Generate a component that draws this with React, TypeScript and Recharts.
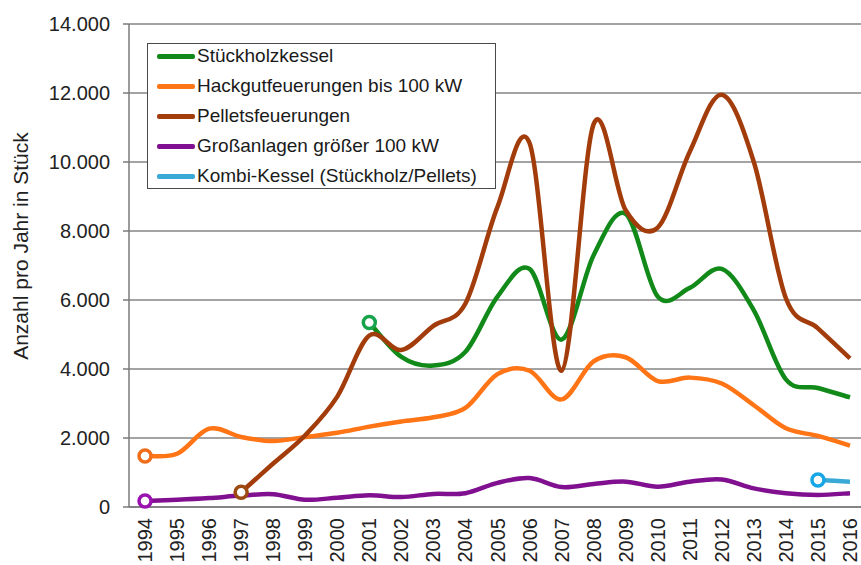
import {
  LineChart,
  Line,
  XAxis,
  YAxis,
  CartesianGrid,
  Legend,
} from 'recharts';

const years = [
  '1994', '1995', '1996', '1997', '1998', '1999', '2000', '2001', '2002', '2003', '2004', '2005',
  '2006', '2007', '2008', '2009', '2010', '2011', '2012', '2013', '2014', '2015', '2016',
];

const stueckholz = [
  null, null, null, null, null, null, null, 5350, 4350, 4100, 4500, 6100,
  6900, 4850, 7300, 8500, 6100, 6350, 6900, 5700, 3700, 3450, 3180,
];
const hackgut = [
  1480, 1545, 2270, 2030, 1910, 2030, 2150, 2330, 2480, 2600, 2870, 3850,
  3950, 3120, 4220, 4340, 3650, 3750, 3580, 2950, 2280, 2060, 1780,
];
const pellets = [
  null, null, null, 430, 1260, 2080, 3200, 4970, 4550, 5250, 5900, 8700,
  10550, 3950, 11100, 8600, 8100, 10300, 11950, 10000, 6050, 5180, 4310,
];
const grossanlagen = [
  175, 210, 260, 330, 370, 210, 270, 340, 290, 380, 400, 700,
  840, 580, 670, 735, 590, 735, 800, 540, 400, 350, 400,
];
const kombi = [
  null, null, null, null, null, null, null, null, null, null, null, null,
  null, null, null, null, null, null, null, null, null, 783, 735,
];

const yTicks = [0, 2000, 4000, 6000, 8000, 10000, 12000, 14000];

const series = [
  { key: 'stueckholz', name: 'Stückholzkessel', color: '#128a1a', dot: '#17a24c', values: stueckholz },
  { key: 'hackgut', name: 'Hackgutfeuerungen bis 100 kW', color: '#ff7415', dot: '#f06d1c', values: hackgut },
  { key: 'pellets', name: 'Pelletsfeuerungen', color: '#a33c0b', dot: '#9c4a12', values: pellets },
  { key: 'gross', name: 'Großanlagen größer 100 kW', color: '#80108f', dot: '#9a12b0', values: grossanlagen },
  { key: 'kombi', name: 'Kombi-Kessel (Stückholz/Pellets)', color: '#3aa9d6', dot: '#16a6e6', values: kombi },
];

const data = years.map((year, i) => {
  const row: any = { idx: i, year };
  series.forEach((s) => {
    row[s.key] = s.values[i];
  });
  return row;
});

const boundaryTicks = years.map((_, i) => i - 0.5).concat([years.length - 0.5]);
const centerTicks = years.map((_, i) => i);

const FONT = '"Liberation Sans", Arial, sans-serif';

const fmt = (v: number) => v.toLocaleString('de-DE');

// excel-like smoothed line (catmull-rom through every point)
const smoothCurve: any = (context: any) => {
  let pts: number[][] = [];
  return {
    areaStart() {},
    areaEnd() {},
    lineStart() {
      pts = [];
    },
    point(x: number, y: number) {
      pts.push([+x, +y]);
    },
    lineEnd() {
      const n = pts.length;
      if (!n) return;
      context.moveTo(pts[0][0], pts[0][1]);
      for (let i = 0; i < n - 1; i++) {
        const p0 = pts[i - 1] || pts[i];
        const p1 = pts[i];
        const p2 = pts[i + 1];
        const p3 = pts[i + 2] || p2;
        context.bezierCurveTo(
          p1[0] + (p2[0] - p0[0]) / 6,
          p1[1] + (p2[1] - p0[1]) / 6,
          p2[0] - (p3[0] - p1[0]) / 6,
          p2[1] - (p3[1] - p1[1]) / 6,
          p2[0],
          p2[1]
        );
      }
    },
  };
};

const firstDot = (color: string, values: (number | null)[]) => {
  const first = values.findIndex((v) => v != null);
  return (props: any) => {
    const { cx, cy, index } = props;
    if (index !== first || cx == null || cy == null) return <g key={`d-${index}`} />;
    return (
      <circle
        key={`d-${index}`}
        cx={cx}
        cy={cy}
        r={6}
        fill="#fff"
        stroke={color}
        strokeWidth={3.5}
      />
    );
  };
};

const YearTick = (props: any) => {
  const { x, y, payload } = props;
  return (
    <text
      x={x}
      y={y}
      transform={`rotate(-90, ${x}, ${y})`}
      textAnchor="end"
      dominantBaseline="central"
      fontSize={20}
      fill="#222"
      fontFamily={FONT}
    >
      {years[payload.value]}
    </text>
  );
};

const legendContent = () => (
  <div
    style={{
      width: 349,
      height: 146,
      boxSizing: 'border-box',
      border: '1px solid #4a4a4a',
      background: '#fff',
      paddingLeft: 9,
      fontFamily: FONT,
      fontSize: 19,
      color: '#1a1a1a',
    }}
  >
    {series.map((s, i) => (
      <div
        key={s.key}
        style={{
          display: 'flex',
          alignItems: 'center',
          height: 30,
          marginTop: i === 0 ? -3 : 0,
        }}
      >
        <span
          style={{
            display: 'inline-block',
            width: 38,
            height: 5,
            borderRadius: 2,
            background: s.color,
            marginRight: 2,
          }}
        />
        <span style={{ whiteSpace: 'nowrap' }}>{s.name}</span>
      </div>
    ))}
  </div>
);

export default function App() {
  return (
    <div
      style={{
        position: 'absolute',
        left: 0,
        top: 0,
        width: 861,
        height: 565,
        overflow: 'hidden',
        background: '#fff',
      }}
    >
      <LineChart
        width={874}
        height={565}
        data={data}
        margin={{ top: 24, right: 8, bottom: 0, left: 0 }}
        style={{ fontFamily: FONT }}
      >
        <CartesianGrid vertical={false} stroke="#858585" strokeWidth={1.5} />
        <XAxis
          dataKey="idx"
          type="number"
          domain={[-0.5, years.length - 0.5]}
          ticks={boundaryTicks}
          tick={false}
          tickSize={6}
          height={1}
          stroke="#7a7a7a"
          strokeWidth={1.5}
          interval={0}
        />
        <XAxis
          xAxisId="lbl"
          dataKey="idx"
          type="number"
          domain={[-0.5, years.length - 0.5]}
          ticks={centerTicks}
          tick={<YearTick />}
          axisLine={false}
          tickLine={false}
          tickSize={0}
          tickMargin={10}
          height={57}
          interval={0}
        />
        <YAxis
          domain={[0, 14000]}
          ticks={yTicks}
          tickFormatter={fmt}
          width={129}
          tickSize={6}
          tickMargin={13}
          stroke="#7a7a7a"
          strokeWidth={1.5}
          tick={{ fontSize: 20, fill: '#222', fontFamily: FONT }}
          interval={0}
          label={{
            content: () => (
              <text
                x={20}
                y={246}
                transform="rotate(-90, 20, 246)"
                textAnchor="middle"
                dominantBaseline="central"
                fontSize={21}
                fill="#222"
                fontFamily={FONT}
              >
                Anzahl pro Jahr in Stück
              </text>
            ),
          }}
        />
        <Legend
          layout="vertical"
          align="center"
          verticalAlign="middle"
          content={legendContent}
          wrapperStyle={{ left: 147, top: 43, width: 349, height: 146 }}
        />
        {series.map((s) => (
          <Line
            key={s.key}
            dataKey={s.key}
            name={s.name}
            type={smoothCurve}
            stroke={s.color}
            strokeWidth={4.5}
            dot={firstDot(s.dot, s.values)}
            activeDot={false}
            connectNulls={false}
            isAnimationActive={false}
          />
        ))}
      </LineChart>
    </div>
  );
}
